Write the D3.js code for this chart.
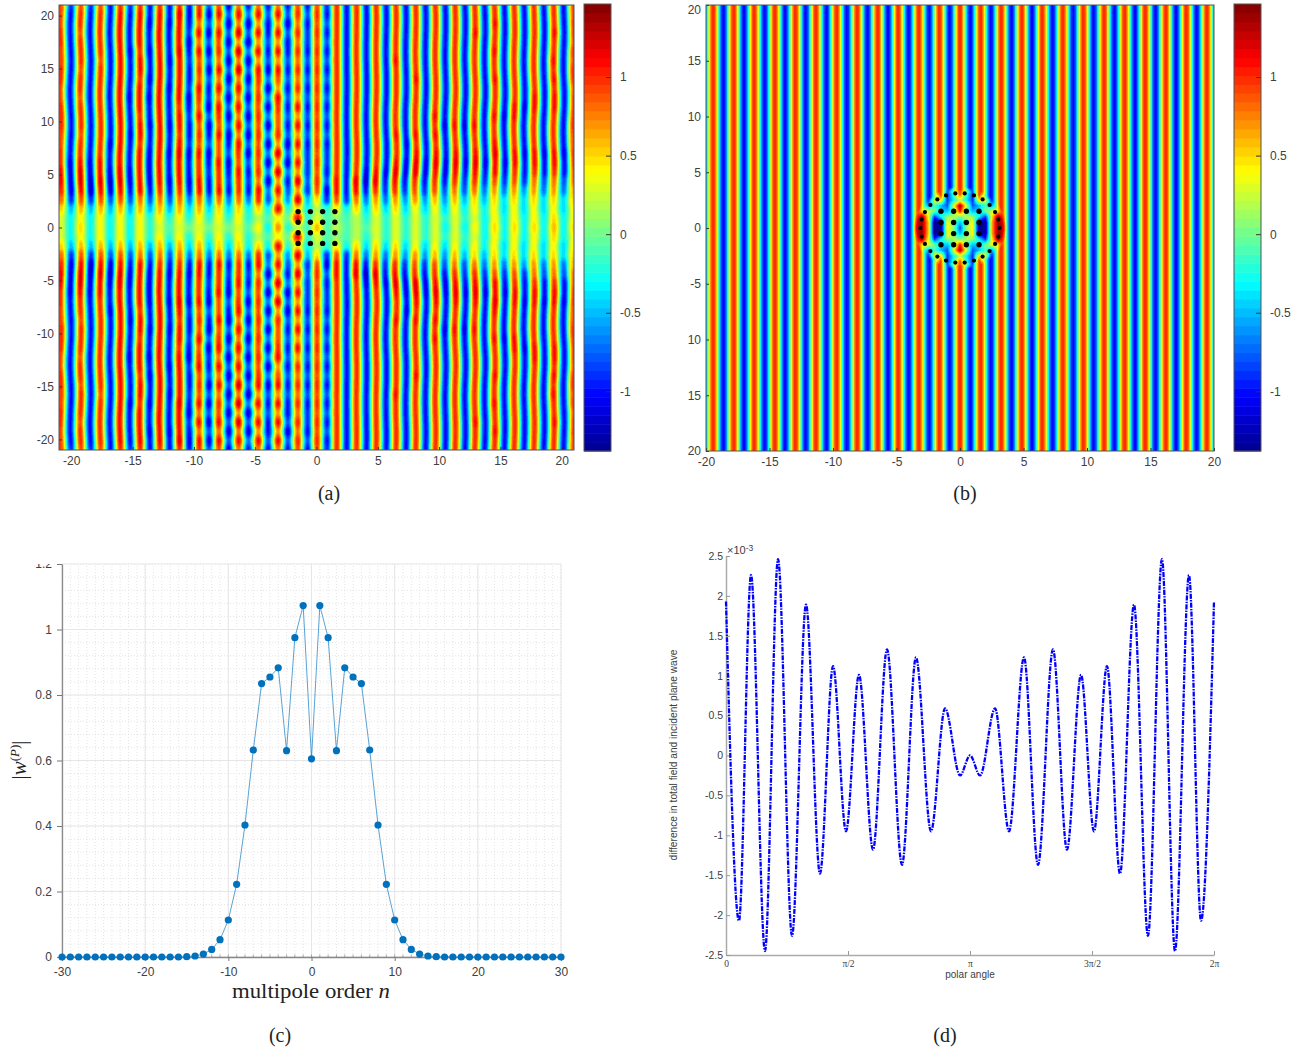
<!DOCTYPE html>
<meta charset="utf-8">
<head>
<style>
  body { margin: 0; background: #fff; }
  text { font-family: "Liberation Sans", sans-serif; fill: #404040; }
  .serif { font-family: "Liberation Serif", serif; fill: #222; }
</style>
<script src="https://d3js.org/d3.v7.min.js"></script>
</head>
<svg id="chart" width="1297" height="1055"></svg>
<script>
// ---- panel (a): extrema columns of the field (crest, trough, crest ...)
var columnsA = [-20.85,-20.05,-19.24,-18.44,-17.63,-16.83,-16.02,-15.22,-14.41,-13.61,-12.8,-12,-11.19,-10.39,-9.58,-8.78,-7.97,-7.17,-6.36,-5.56,-4.75,-3.95,-3.14,-2.34,-1.53,-0.73,0.04,0.85,1.65,2.46,3.26,4.07,4.87,5.68,6.48,7.29,8.09,8.9,9.7,10.51,11.31,12.12,12.92,13.73,14.53,15.34,16.14,16.95,17.75,18.56,19.36,20.17,20.97];
// heights read upward from y = 0, the lower half mirrors them
var rowsA = [0,0.875,1.75,2.625,3.5,4.375,5.25,6.125,7,7.875,8.75,9.625,10.5,11.375,12.25,13.125,14,14.875,15.75,16.625,17.5,18.375,19.25,20.125,21];
// strength in tenths, one line per column, one value per row. crest columns are +, trough columns -
var fieldA = [
[3,3,5,8,10,11,11,10,10,9,9,10,10,10,9,9,10,10,9,9,10,10,9,9,9],
[3,3,5,9,11,11,11,11,10,10,10,10,10,10,10,10,10,10,10,10,10,10,10,10,9],
[5,4,6,9,11,12,12,11,10,10,9,10,10,10,9,10,10,9,10,10,10,9,10,10,9],
[3,3,5,9,12,12,11,11,10,10,10,10,10,10,10,10,10,10,10,10,10,10,10,10,9],
[4,4,6,9,11,12,11,11,10,10,10,10,10,10,10,10,10,10,9,10,10,10,10,10,9],
[3,3,5,8,11,12,11,10,10,11,10,10,10,10,10,10,10,10,10,10,10,10,10,10,10],
[4,4,6,9,11,12,12,11,11,11,11,11,11,11,11,11,11,11,11,11,11,11,11,11,10],
[3,3,5,8,10,11,11,10,10,10,11,10,10,10,11,10,10,10,10,11,10,10,10,10,9],
[4,4,6,8,11,11,11,11,11,10,11,11,10,11,11,11,10,11,11,10,11,11,11,11,10],
[2,2,5,8,10,11,11,11,11,10,10,11,10,10,11,10,11,10,10,11,10,10,11,10,10],
[3,4,6,8,10,11,11,11,11,11,11,11,11,11,11,11,11,11,11,11,11,11,11,11,10],
[1,2,5,8,10,11,10,10,11,10,10,11,10,10,10,11,10,10,11,10,10,10,11,10,10],
[3,4,6,8,10,11,11,11,12,11,10,11,11,10,11,11,11,11,11,12,11,11,11,12,10],
[0,2,4,7,10,11,10,10,11,9,10,10,9,10,11,9,10,10,9,10,11,9,10,11,10],
[3,4,6,8,11,11,10,10,11,9,10,9,11,9,10,11,9,10,9,11,8,11,8,11,10],
[0,2,4,7,10,10,9,10,11,8,10,11,8,11,9,10,8,11,8,11,8,11,8,11,8],
[3,4,5,8,11,10,10,11,9,9,11,9,10,11,8,11,8,11,8,10,9,11,8,11,9],
[0,2,4,7,10,9,10,11,8,10,11,8,11,8,11,8,11,8,11,8,11,8,11,8,11],
[3,4,5,8,10,10,11,9,10,11,8,11,8,11,8,11,8,12,8,12,7,12,8,11,8],
[1,2,3,7,10,9,10,8,11,8,11,8,11,8,11,8,11,8,11,7,11,8,11,7,10],
[4,2,5,10,11,8,10,9,10,9,10,9,10,9,10,9,10,11,7,11,7,11,7,11,8],
[3,1,3,8,7,11,7,11,7,11,7,11,7,11,7,11,7,11,8,10,8,10,10,8,10],
[7,4,11,7,11,7,12,7,12,7,10,9,9,10,11,7,9,11,7,11,7,11,7,11,8],
[2,0,2,6,8,10,7,11,8,11,8,10,8,10,8,10,8,10,8,10,10,8,11,8,10],
[2,11,5,12,7,12,7,11,7,11,7,11,7,11,7,10,8,10,8,10,8,10,8,10,9],
[1,2,3,5,9,8,9,9,9,10,8,10,8,10,8,10,8,10,8,10,9,9,10,8,10],
[6,3,2,5,9,10,9,10,9,10,9,10,9,10,9,10,9,10,9,10,9,10,9,10,9],
[1,1,2,9,11,8,10,9,9,10,8,10,8,10,8,10,8,10,8,10,8,10,8,10,9],
[2,1,4,9,11,11,10,10,10,10,10,10,10,10,10,10,10,10,10,10,10,10,10,10,10],
[1,1,3,9,10,10,10,10,10,10,10,10,10,10,10,10,10,10,10,10,10,10,10,10,10],
[2,2,5,8,11,12,10,10,10,10,10,10,10,10,10,10,10,10,10,10,10,10,10,10,10],
[1,2,4,7,10,12,11,10,10,10,10,10,10,10,10,10,10,10,10,10,10,10,10,10,10],
[3,3,5,7,10,12,11,10,10,10,10,10,10,10,10,10,10,10,10,10,10,10,10,10,10],
[2,2,4,7,9,10,11,10,10,10,10,10,10,10,10,10,10,10,10,10,10,10,10,10,10],
[3,3,5,7,10,11,12,11,10,10,11,10,10,10,10,10,10,10,11,10,10,10,10,10,10],
[2,2,4,6,9,10,11,11,10,11,10,10,10,10,10,10,10,10,10,10,10,10,10,10,10],
[3,3,4,7,9,10,12,12,11,10,11,10,10,10,10,10,11,10,10,10,10,10,10,10,10],
[2,2,4,6,9,10,11,11,10,10,10,10,10,10,10,10,10,10,10,10,10,10,10,10,10],
[3,3,4,6,9,10,11,12,11,10,11,10,11,10,10,10,10,10,10,10,10,10,10,10,10],
[3,2,4,6,8,10,11,11,10,10,10,11,10,10,10,10,10,10,10,10,10,10,10,10,10],
[3,3,4,6,8,10,11,12,11,10,10,11,10,10,10,10,10,10,10,10,10,10,10,10,10],
[3,2,3,5,8,9,10,11,10,10,10,11,10,10,10,10,10,10,10,10,10,10,10,10,10],
[4,3,4,5,8,10,11,12,11,10,10,11,10,10,10,10,10,10,10,10,10,11,10,10,10],
[3,3,3,5,7,9,10,11,10,10,10,10,10,10,10,10,10,10,10,10,10,10,10,10,10],
[5,4,4,5,7,9,11,11,12,11,10,10,11,10,10,10,11,10,10,11,10,10,11,10,10],
[3,3,4,4,7,9,10,11,10,10,10,10,11,10,10,10,10,10,10,10,10,10,10,10,10],
[5,4,4,5,7,9,10,11,11,10,10,10,11,11,10,10,10,10,10,10,10,10,10,10,10],
[3,3,4,4,6,9,10,10,11,10,10,10,10,11,10,10,10,10,10,10,10,10,10,10,10],
[5,4,4,5,7,8,10,11,11,10,10,10,10,11,11,10,10,10,10,10,10,10,10,10,10],
[3,3,4,4,7,8,10,10,11,10,10,10,10,10,10,10,10,10,10,10,10,10,10,10,10],
[6,5,4,5,7,8,10,11,11,10,10,10,10,11,11,10,11,10,11,10,10,11,10,10,10],
[3,3,4,4,7,8,10,10,11,10,10,10,10,10,10,10,10,10,10,10,10,10,10,10,10],
[5,4,4,5,6,8,9,10,10,9,9,10,10,10,10,9,10,10,9,10,9,10,10,9,9]
];
// sideways bend of the stripes, hundredths of a unit, one line per row
var bendAnchors = [-21,-14,-7,0,7,14,21];
var bendA = [
[0,0,0,0,0,0,0],
[0,0,0,0,0,0,0],
[4,3,2,0,-3,-4,-4],
[5,4,2,0,-6,-5,-4],
[4,3,2,0,-10,-4,-2],
[1,0,1,0,-10,-1,1],
[-2,-3,0,0,-3,3,4],
[-4,-4,-1,0,2,5,4],
[-4,-2,-1,0,6,4,1],
[-1,2,0,0,5,0,-3],
[3,4,1,0,0,-4,-5],
[5,3,1,0,-4,-6,-4],
[4,0,0,0,-5,-4,0],
[0,-3,-1,0,-3,0,4],
[-4,-4,-1,0,1,4,5],
[-5,-2,0,0,3,5,3],
[-2,2,1,0,3,2,-1],
[2,4,1,0,1,-2,-4],
[5,3,0,0,-2,-4,-4],
[3,0,-1,0,-3,-3,-1],
[-1,-3,-1,0,-2,0,2],
[-4,-4,0,0,0,3,4],
[-4,-1,1,0,2,3,2],
[0,2,1,0,2,1,-1],
[3,3,0,0,0,-2,-3]
];
var gridDotX = [-1.5,-0.5,0.5,1.5];
var gridDotY = [1.5,0.5,-0.5,-1.5];

// ---- panel (b): stripes and the region around the ring
var columnsB = [-20.25,-19.44,-18.63,-17.82,-17.01,-16.2,-15.39,-14.58,-13.77,-12.96,-12.15,-11.34,-10.53,-9.72,-8.91,-8.1,-7.29,-6.48,-5.67,-4.86,-4.05,-3.24,-2.43,-1.62,-0.81,0,0.81,1.62,2.43,3.24,4.05,4.86,5.67,6.48,7.29,8.1,8.91,9.72,10.53,11.34,12.15,12.96,13.77,14.58,15.39,16.2,17.01,17.82,18.63,19.44,20.25];
var patchNodes = [0,0.5,1,1.5,2,2.5,3,3.5];
var patchB = [
[-0.8,0.1,0.45,-1.38,-1.38,0.6,1.45,1.2],
[-0.5,0,0.4,-1.2,-1.38,0.6,1.45,1.2],
[0,0.2,0.1,-0.3,-0.9,0.4,1.4,1],
[1.1,-0.1,-0.5,-0.4,0,0.3,0.5,0.7],
[1.4,0.3,-0.8,-0.5,-0.1,-0.6,0.3,0.7],
[0.2,-0.3,-0.9,0.5,0.3,-0.8,0,0.9],
[0.9,-0.2,-0.9,1,-0.2,-1,0.3,1],
[1,0.3,-0.8,0.9,0,-1,0.6,0.7]
];
var ringX = [-0.37,0.37,-1.1,1.1,-1.78,1.78,-2.33,2.33,-2.76,2.76,-3.02,3.02,-3.12,3.12,-3.02,3.02,-2.76,2.76,-2.33,2.33,-1.78,1.78,-1.1,1.1,-0.37,0.37];
var ringY = [3.1,3.1,2.92,2.92,2.56,2.56,2.07,2.07,1.43,1.43,0.77,0.77,0,0,-0.77,-0.77,-1.43,-1.43,-2.07,-2.07,-2.56,-2.56,-2.92,-2.92,-3.1,-3.1];

// ---- colour bar
var barTicks = [1,0.5,0,-0.5,-1];
var barLabels = ["1","0.5","0","-0.5","-1"];

// ---- tick labels
var ticksField = [-20,-15,-10,-5,0,5,10,15,20];
var ticksFieldBLeft = ["20","15","10","5","0","-5","10","15","20"];

// ---- panel (c)
var orders = d3.range(-30, 31);
var weights = [0,0,0,0,0,0,0,0,0,0,0,0,0,0,0,0.001,0.003,0.009,0.023,0.053,0.113,0.222,0.403,0.632,0.835,0.855,0.883,0.63,0.975,1.073,0.605,1.073,0.975,0.63,0.883,0.855,0.835,0.632,0.403,0.222,0.113,0.053,0.023,0.009,0.003,0.001,0,0,0,0,0,0,0,0,0,0,0,0,0,0,0];

// ---- panel (d): turning points of the curve
var polarAngle = [0,0.167,0.322,0.502,0.67,0.85,1.03,1.21,1.378,1.545,1.712,1.893,2.073,2.266,2.446,2.639,2.82,3.013,3.142,3.271,3.464,3.644,3.837,4.017,4.21,4.39,4.571,4.738,4.905,5.073,5.253,5.433,5.613,5.781,5.961,6.116,6.283];
var difference = [1.93,-2.07,2.26,-2.45,2.46,-2.26,1.89,-1.48,1.12,-0.95,1.01,-1.18,1.33,-1.37,1.23,-0.95,0.59,-0.25,0,-0.25,0.59,-0.95,1.23,-1.37,1.33,-1.18,1.01,-0.95,1.12,-1.48,1.89,-2.26,2.46,-2.45,2.26,-2.07,1.93];
var ticksAngle = [0, Math.PI/2, Math.PI, 3*Math.PI/2, 2*Math.PI];
var labelsAngle = ["0","\u03c0/2","\u03c0","3\u03c0/2","2\u03c0"];

var svg = d3.select("#chart");

// jet colour map in 50 levels
var jet = d3.scaleLinear()
    .domain([0,0.125,0.375,0.625,0.875,1])
    .range(["#00008f","#0000ff","#00ffff","#ffff00","#ff0000","#800000"]);
var levels = d3.range(50).map(function(i) { return jet((i + 0.5) / 50); });
var colorScale = d3.scaleQuantize().domain([-1.38,1.465]).range(levels);

function ease(t) { return (1 - Math.cos(Math.PI * t)) / 2; }

// index and fraction of v between the sorted nodes
function locate(nodes, v) {
  var i = d3.bisectRight(nodes, v) - 1;
  if (i < 0) return [0, 0];
  if (i >= nodes.length - 1) return [nodes.length - 2, 1];
  return [i, (v - nodes[i]) / (nodes[i+1] - nodes[i])];
}

// paint value(x, y) on a canvas and place it in the svg
function drawField(x, y, value) {
  var x0 = x.range()[0], x1 = x.range()[1], y0 = y.range()[1], y1 = y.range()[0];
  var w = Math.round(x1 - x0), h = Math.round(y1 - y0);
  var canvas = document.createElement("canvas");
  canvas.width = w; canvas.height = h;
  var ctx = canvas.getContext("2d");
  for (var j = 0; j < h; j++) {
    for (var i = 0; i < w; i++) {
      ctx.fillStyle = colorScale(value(x.invert(x0 + i + 0.5), y.invert(y0 + j + 0.5)));
      ctx.fillRect(i, j, 1, 1);
    }
  }
  svg.append("image").attr("x", x0).attr("y", y0).attr("width", w).attr("height", h)
    .attr("href", canvas.toDataURL());
}

function fieldAValue(px, py) {
  var ay = Math.abs(py);
  var b = locate(rowsA, ay), ty = ease(b[1]);
  var s = locate(bendAnchors, px);
  var bendLow = bendA[b[0]][s[0]] * (1 - s[1]) + bendA[b[0]][s[0]+1] * s[1];
  var bendHigh = bendA[b[0]+1][s[0]] * (1 - s[1]) + bendA[b[0]+1][s[0]+1] * s[1];
  var a = locate(columnsA, px - (bendLow * (1 - b[1]) + bendHigh * b[1]) / 100);
  var tx = ease(a[1]);
  function v(c, r) { return (c % 2 === 0 ? 1 : -1) * fieldA[c][r] / 10; }
  var top = v(a[0], b[0]) * (1 - tx) + v(a[0] + 1, b[0]) * tx;
  var bot = v(a[0], b[0] + 1) * (1 - tx) + v(a[0] + 1, b[0] + 1) * tx;
  return top * (1 - ty) + bot * ty;
}

function fieldBValue(px, py) {
  var a = locate(columnsB, px);
  var odd = a[0] % 2 === 0;   // first node is a trough
  var stripe = odd ? -1 + 2 * ease(a[1]) : 1 - 2 * ease(a[1]);
  var radius = Math.hypot(px, py);
  if (radius > 3.7) return stripe;
  var p = locate(patchNodes, Math.abs(px)), q = locate(patchNodes, Math.abs(py));
  var inner = (patchB[q[0]][p[0]] * (1 - p[1]) + patchB[q[0]][p[0]+1] * p[1]) * (1 - q[1])
            + (patchB[q[0]+1][p[0]] * (1 - p[1]) + patchB[q[0]+1][p[0]+1] * p[1]) * q[1];
  var w = radius < 3.3 ? 1 : 1 - (radius - 3.3) / 0.4;
  return inner * w + stripe * (1 - w);
}

// box, ticks and labels of a field panel
function fieldFrame(x, y, labelsY) {
  var x0 = x.range()[0], x1 = x.range()[1], y0 = y.range()[1], y1 = y.range()[0];
  var gx = svg.append("g").attr("transform", "translate(0," + y1 + ")")
    .call(d3.axisBottom(x).tickValues(ticksField).tickSize(-3).tickPadding(6).tickFormat(String));
  var gy = svg.append("g").attr("transform", "translate(" + x0 + ",0)")
    .call(d3.axisLeft(y).tickValues(ticksField).tickSize(-3).tickPadding(5)
      .tickFormat(function(d, i) { return labelsY ? labelsY[ticksField.length - 1 - i] : String(d); }));
  [gx, gy].forEach(function(g) {
    g.selectAll("text").style("font-size", "12px");
    g.selectAll("line").attr("stroke", "#333");
    g.select(".domain").remove();
  });
  // keep the top label of (b) inside the page
  gy.selectAll("text").filter(function(d) { return y(d) < 10; }).attr("dy", "0.72em");
  svg.append("rect").attr("x", x0).attr("y", y0).attr("width", x1 - x0).attr("height", y1 - y0)
    .attr("fill", "none").attr("stroke", "#555").attr("stroke-width", 1);
}

function colorBar(left, right, top, bottom) {
  var y = d3.scaleLinear().domain([-1.38,1.465]).range([bottom, top]);
  var step = 2.845 / levels.length;
  svg.append("g").selectAll("rect").data(levels).enter().append("rect")
    .attr("x", left).attr("width", right - left)
    .attr("y", function(d, i) { return y(-1.38 + (i + 1) * step); })
    .attr("height", function() { return (bottom - top) / levels.length + 0.5; })
    .attr("fill", function(d) { return d; });
  var g = svg.append("g").attr("transform", "translate(" + right + ",0)")
    .call(d3.axisRight(y).tickValues(barTicks).tickSize(-5).tickPadding(9)
      .tickFormat(function(d, i) { return barLabels[i]; }));
  g.select(".domain").remove();
  g.selectAll("line").attr("stroke", "#333");
  g.selectAll("text").style("font-size", "12px");
  svg.append("rect").attr("x", left).attr("y", top).attr("width", right - left).attr("height", bottom - top)
    .attr("fill", "none").attr("stroke", "#555");
}

// ---- (a)
var xA = d3.scaleLinear().domain([-21,21]).range([59,574]);
var yA = d3.scaleLinear().domain([-21,21]).range([450,5]);
drawField(xA, yA, fieldAValue);
gridDotX.forEach(function(dx) {
  svg.append("g").selectAll("circle").data(gridDotY).enter().append("circle")
    .attr("cx", xA(dx)).attr("cy", function(d) { return yA(d); }).attr("r", 2.7).attr("fill", "#000");
});
fieldFrame(xA, yA);
colorBar(584, 611, 4, 451);

// ---- (b)
var xB = d3.scaleLinear().domain([-20,20]).range([706,1214]);
var yB = d3.scaleLinear().domain([-20,20]).range([451,5]);
drawField(xB, yB, fieldBValue);
gridDotX.forEach(function(dx) {
  svg.append("g").selectAll("circle").data(gridDotY).enter().append("circle")
    .attr("cx", xB(dx)).attr("cy", function(d) { return yB(d); }).attr("r", 2.7).attr("fill", "#000");
});
svg.append("g").selectAll("circle").data(ringX).enter().append("circle")
  .attr("cx", function(d) { return xB(d); })
  .attr("cy", function(d, i) { return yB(ringY[i]); })
  .attr("r", 2.1).attr("fill", "#000");
fieldFrame(xB, yB, ticksFieldBLeft);
colorBar(1234, 1261, 4, 451);

// ---- (c)
var xC = d3.scaleLinear().domain([-30,30]).range([62,561]);
var yC = d3.scaleLinear().domain([0,1.2]).range([957,564]);
var gridC = svg.append("g");
gridC.selectAll(".minx").data(d3.range(-30,31)).enter().append("line")
  .attr("x1", function(d) { return xC(d); }).attr("x2", function(d) { return xC(d); })
  .attr("y1", yC(0)).attr("y2", yC(1.2))
  .attr("stroke", "#d8d8d8").attr("stroke-width", 0.7).attr("stroke-dasharray", "1 2");
gridC.selectAll(".miny").data(d3.range(0,31)).enter().append("line")
  .attr("x1", xC(-30)).attr("x2", xC(30))
  .attr("y1", function(d) { return yC(d * 0.04); }).attr("y2", function(d) { return yC(d * 0.04); })
  .attr("stroke", "#d8d8d8").attr("stroke-width", 0.7).attr("stroke-dasharray", "1 2");
gridC.selectAll(".majx").data(d3.range(-30,31,10)).enter().append("line")
  .attr("x1", function(d) { return xC(d); }).attr("x2", function(d) { return xC(d); })
  .attr("y1", yC(0)).attr("y2", yC(1.2)).attr("stroke", "#e6e6e6");
gridC.selectAll(".majy").data(d3.range(0,7)).enter().append("line")
  .attr("x1", xC(-30)).attr("x2", xC(30))
  .attr("y1", function(d) { return yC(d * 0.2); }).attr("y2", function(d) { return yC(d * 0.2); })
  .attr("stroke", "#e6e6e6");
gridC.selectAll(".mintick").data(d3.range(-30,31)).enter().append("line")
  .attr("x1", function(d) { return xC(d); }).attr("x2", function(d) { return xC(d); })
  .attr("y1", yC(0)).attr("y2", yC(0) - 2.5).attr("stroke", "#888").attr("stroke-width", 0.7);

var gxC = svg.append("g").attr("transform", "translate(0,957)")
  .call(d3.axisBottom(xC).tickValues(d3.range(-30,31,10)).tickSize(4).tickSizeOuter(0).tickPadding(6).tickFormat(String));
var gyC = svg.append("g").attr("transform", "translate(62,0)")
  .call(d3.axisLeft(yC).tickValues(d3.range(0,7).map(function(d) { return d * 0.2; })).tickSize(5).tickSizeOuter(0).tickPadding(5)
    .tickFormat(function(d) { return +d.toFixed(1); }));
[gxC, gyC].forEach(function(g) {
  g.selectAll("text").style("font-size", "12px");
  g.selectAll("line").attr("stroke", "#777");
  g.select(".domain").attr("stroke", "#888").attr("stroke-width", 1.3);
});
// the top label is cut in half in the figure
svg.append("rect").attr("x", 30).attr("y", 555).attr("width", 28).attr("height", 9).attr("fill", "#fff");

var lineC = d3.line().x(function(d, i) { return xC(orders[i]); }).y(function(d) { return yC(d); });
svg.append("path").datum(weights).attr("d", lineC)
  .attr("fill", "none").attr("stroke", "#0072bd").attr("stroke-opacity", 0.65).attr("stroke-width", 1);
svg.append("g").selectAll("circle").data(weights).enter().append("circle")
  .attr("cx", function(d, i) { return xC(orders[i]); })
  .attr("cy", function(d) { return yC(d); })
  .attr("r", 3.6).attr("fill", "#0072bd");

var labelC = svg.append("text").attr("class", "serif").attr("x", 311).attr("y", 998)
  .attr("text-anchor", "middle").style("font-size", "21px")
  .attr("textLength", 158).attr("lengthAdjust", "spacingAndGlyphs");
labelC.append("tspan").text("multipole order ");
labelC.append("tspan").style("font-style", "italic").text("n");
var labelW = svg.append("text").attr("class", "serif")
  .attr("transform", "translate(26,760) rotate(-90)")
  .attr("text-anchor", "middle").style("font-size", "21px");
labelW.append("tspan").text("|");
labelW.append("tspan").style("font-style", "italic").text("w");
labelW.append("tspan").attr("dy", -7).style("font-size", "13px").text("(");
labelW.append("tspan").style("font-size", "13px").style("font-style", "italic").text("P");
labelW.append("tspan").style("font-size", "13px").text(")");
labelW.append("tspan").attr("dy", 7).text("|");

// ---- (d)
var xD = d3.scaleLinear().domain([0,2*Math.PI]).range([726,1214]);
var yD = d3.scaleLinear().domain([-2.5,2.5]).range([955,556]);
var gxD = svg.append("g").attr("transform", "translate(0,955)")
  .call(d3.axisBottom(xD).tickValues(ticksAngle).tickSize(-4).tickSizeOuter(0).tickPadding(5)
    .tickFormat(function(d, i) { return labelsAngle[i]; }));
var gyD = svg.append("g").attr("transform", "translate(726,0)")
  .call(d3.axisLeft(yD).tickValues(d3.range(-2.5,2.6,0.5)).tickSize(-4).tickSizeOuter(0).tickPadding(3)
    .tickFormat(String));
[gxD, gyD].forEach(function(g) {
  g.selectAll("text").style("font-size", "10.5px");
  g.selectAll("line").attr("stroke", "#999");
  g.select(".domain").attr("stroke", "#aaa").attr("stroke-width", 1.5);
});
gxD.selectAll("text").style("font-size", "9.5px").style("font-family", "'Liberation Serif', serif");

var lineD = d3.line()
  .x(function(d, i) { return xD(polarAngle[i]); })
  .y(function(d) { return yD(d); })
  .curve(d3.curveMonotoneX);
svg.append("path").datum(difference).attr("d", lineD)
  .attr("fill", "none").attr("stroke", "#0000ff").attr("stroke-width", 2.3)
  .attr("stroke-dasharray", "5 1.2 1.5 1.2");

svg.append("text").attr("x", 970).attr("y", 978).attr("text-anchor", "middle")
  .style("font-size", "10px").text("polar angle");
svg.append("text").attr("transform", "translate(677,755) rotate(-90)").attr("text-anchor", "middle")
  .style("font-size", "10.2px").text("difference in total field and incident plane wave");
var mult = svg.append("text").attr("x", 727).attr("y", 554).style("font-size", "11px");
mult.append("tspan").text("\u00d710");
mult.append("tspan").attr("dy", -3).style("font-size", "8.5px").text("-3");

// ---- captions
svg.append("text").attr("class", "serif").attr("x", 329).attr("y", 500).attr("text-anchor", "middle").style("font-size", "20px").text("(a)");
svg.append("text").attr("class", "serif").attr("x", 965).attr("y", 500).attr("text-anchor", "middle").style("font-size", "20px").text("(b)");
svg.append("text").attr("class", "serif").attr("x", 280).attr("y", 1042).attr("text-anchor", "middle").style("font-size", "20px").text("(c)");
svg.append("text").attr("class", "serif").attr("x", 945).attr("y", 1042).attr("text-anchor", "middle").style("font-size", "20px").text("(d)");
</script>
